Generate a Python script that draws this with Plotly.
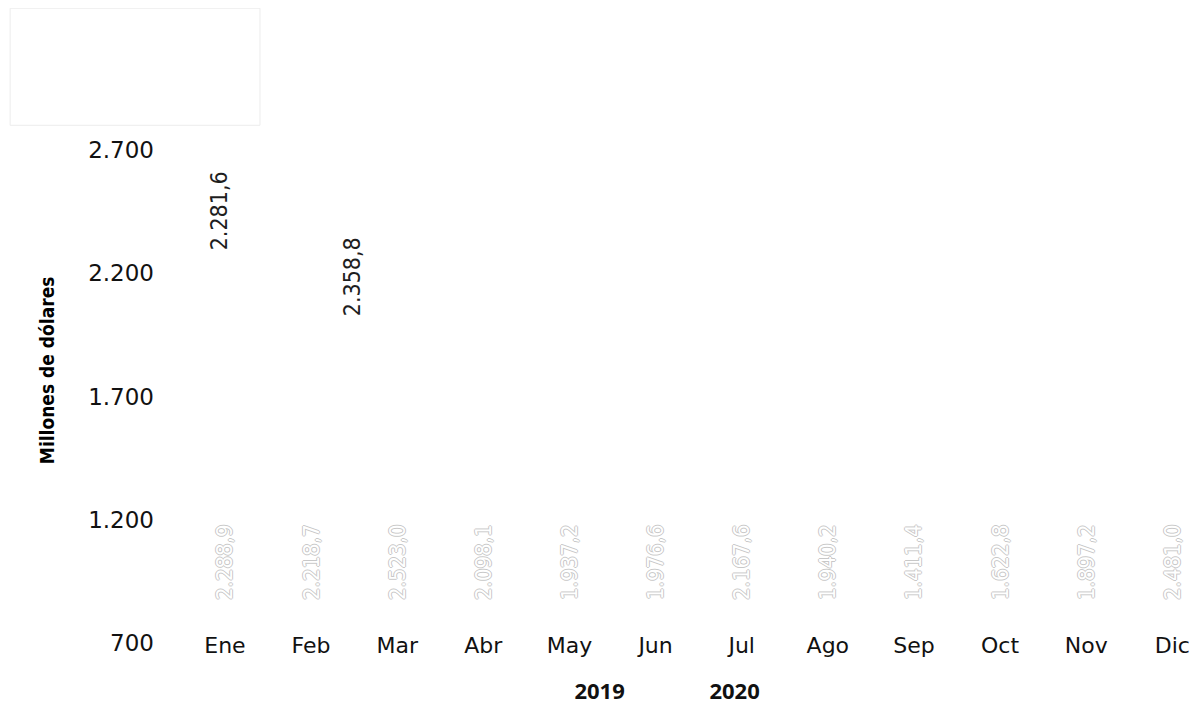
import plotly.graph_objects as go

meses = ['Ene', 'Feb', 'Mar', 'Abr', 'May', 'Jun', 'Jul', 'Ago', 'Sep', 'Oct', 'Nov', 'Dic']
valores_2019 = [2288.9, 2218.7, 2523.0, 2098.1, 1937.2, 1976.6, 2167.6, 1940.2, 1411.4, 1622.8, 1897.2, 2481.0]
meses_2020 = ['Ene', 'Feb']
valores_2020 = [2281.6, 2358.8]

INVISIBLE = 'rgba(0,0,0,0)'
OUTLINE = '#c8c8c8'
CONDENSED = 'DejaVu Sans Condensed'

fig = go.Figure()

# 2019 bars sit on their own hidden axis so that their base labels line up near the bottom
fig.add_trace(go.Bar(
    x=meses,
    y=valores_2019,
    name='2019',
    yaxis='y2',
    marker=dict(color=INVISIBLE, line=dict(width=0)),
    texttemplate='%{y:,.1f}',
    textposition='inside',
    insidetextanchor='start',
    textangle=-90,
    textfont=dict(family=CONDENSED, size=22, color='white',
                  shadow=f'1px 0 {OUTLINE}, -1px 0 {OUTLINE}, 0 1px {OUTLINE}, 0 -1px {OUTLINE}'),
    cliponaxis=False,
    hoverinfo='skip',
))

fig.add_trace(go.Bar(
    x=meses_2020,
    y=valores_2020,
    name='2020',
    width=0.4,
    offset=[-0.27, 0.276],
    marker=dict(color=INVISIBLE, line=dict(width=0)),
    texttemplate='%{y:,.1f}',
    textposition=['outside', 'inside'],
    insidetextanchor='end',
    textangle=-90,
    constraintext='none',
    textfont=dict(family=CONDENSED, size=23, color='#1e1e1e'),
    cliponaxis=False,
    hoverinfo='skip',
))

# empty box in the top-left corner
fig.add_shape(type='rect', xref='paper', yref='paper',
              x0=-0.161, x1=0.083, y0=1.0246, y1=1.251,
              line=dict(color='#ececec', width=1), fillcolor='white', layer='below')

fig.add_annotation(
    text='Millones de dólares', textangle=-90, showarrow=False,
    xref='paper', yref='paper', x=-0.125, y=0.551,
    xanchor='center', yanchor='middle',
    font=dict(family=CONDENSED, size=19, color='#000000', weight='bold'),
)

fig.update_layout(
    width=1191,
    height=698,
    barmode='overlay',
    separators=',.',
    plot_bgcolor='white',
    paper_bgcolor='white',
    margin=dict(l=167, r=0, t=130, b=51, autoexpand=False),
    font=dict(family='DejaVu Sans', color='#111111'),
    showlegend=True,
    legend=dict(
        orientation='h',
        x=0.351, xanchor='left',
        y=-0.068, yanchor='middle',
        font=dict(family='Noto Sans', size=22, color='#111111', weight='bold'),
        entrywidth=90,
    ),
    xaxis=dict(
        showgrid=False, zeroline=False, showline=False, automargin=False,
        range=[-0.58, 11.31],
        ticklabelstandoff=-25,
        tickfont=dict(family='DejaVu Sans', size=22, color='#111111'),
    ),
    yaxis=dict(
        showgrid=False, zeroline=False, showline=False, automargin=False,
        range=[650, 2750],
        tick0=700, dtick=500,
        tickformat=',d',
        ticklabelstandoff=20,
        tickfont=dict(family='DejaVu Sans', size=23, color='#111111'),
    ),
    yaxis2=dict(
        overlaying='y', visible=False, range=[-302, 2700], automargin=False,
    ),
)

fig.write_html('out.html')
